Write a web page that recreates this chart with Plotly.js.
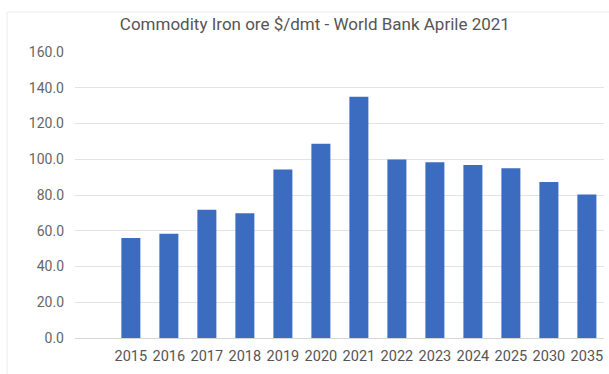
<!DOCTYPE html>
<html>
<head>
<meta charset="utf-8">
<script src="https://cdn.plot.ly/plotly-3.0.1.min.js"></script>
<style>html,body{margin:0;padding:0;background:#fff;}#chart{width:609px;height:374px;}</style>
</head>
<body>
<div id="chart"></div>
<script>
const years = ["2015","2016","2017","2018","2019","2020","2021","2022","2023","2024","2025","2030","2035"];
const prices = [56.0, 58.3, 71.7, 69.8, 94.2, 108.7, 134.9, 99.8, 98.3, 96.8, 94.9, 87.3, 80.3];
const yTicks = [0, 20, 40, 60, 80, 100, 120, 140, 160];
const yTickLabels = ["0.0","20.0","40.0","60.0","80.0","100.0","120.0","140.0","160.0"];
const chartTitle = "Commodity Iron ore $/dmt - World Bank Aprile 2021";

const trace = {
  type: 'bar',
  x: years,
  y: prices,
  marker: {color: '#3b6cc0'},
  hoverinfo: 'x+y'
};

const layout = {
  width: 609, height: 374,
  margin: {l: 75, r: 5, t: 52, b: 36},
  paper_bgcolor: '#ffffff',
  plot_bgcolor: '#ffffff',
  font: {family: 'Roboto, sans-serif', color: '#555555', size: 14},
  bargap: 0.5,
  showlegend: false,
  title: {text: chartTitle, x: 0.517, xanchor: 'center', y: 0.935, yanchor: 'middle',
          font: {family: 'Roboto, sans-serif', size: 17, color: '#555555'}},
  xaxis: {
    type: 'category',
    range: [-1.47, 12.45],
    showgrid: false, zeroline: false, showline: false,
    ticks: '', ticklabelstandoff: 7,
    tickfont: {size: 14.5, color: '#555555'}
  },
  yaxis: {
    range: [0, 160],
    tickvals: yTicks, ticktext: yTickLabels,
    showgrid: true, gridcolor: '#e3e3e3', gridwidth: 1,
    zeroline: true, zerolinecolor: '#d6d6d6', zerolinewidth: 1,
    showline: false, ticks: '', ticklabelstandoff: 10,
    tickfont: {size: 14, color: '#666666'}
  },
  shapes: [{
    type: 'rect', xref: 'paper', yref: 'paper',
    x0: (7-75)/529, x1: 1.02, y0: -0.2, y1: 1 + (52-12)/286,
    line: {color: '#ececec', width: 1}, fillcolor: 'rgba(0,0,0,0)', layer: 'below'
  }]
};

Plotly.newPlot('chart', [trace], layout, {displayModeBar: false, staticPlot: true});
</script>
</body>
</html>
